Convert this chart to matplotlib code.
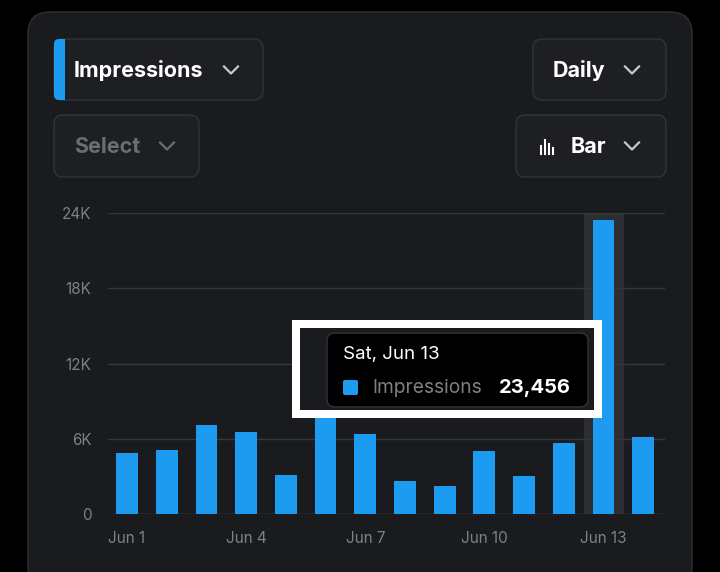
import matplotlib
matplotlib.use("Agg")
import matplotlib.pyplot as plt
from matplotlib.patches import FancyBboxPatch, Rectangle

days = ["Jun 1","Jun 2","Jun 3","Jun 4","Jun 5","Jun 6","Jun 7","Jun 8","Jun 9","Jun 10","Jun 11","Jun 12","Jun 13","Jun 14"]
values = [4900, 5100, 7100, 6500, 3100, 8000, 6400, 2600, 2200, 5000, 3000, 5700, 23456, 6100]
yticks = [0, 6000, 12000, 18000, 24000]
ytick_labels = ["0", "6K", "12K", "18K", "24K"]
xtick_idx = [0, 3, 6, 9, 12]
highlight = 12

W, H = 720, 572
fig = plt.figure(figsize=(7.2, 5.72), dpi=100, facecolor="black")
plt.rcParams['font.family'] = ['Inter', 'DejaVu Sans']

bg = fig.add_axes([0, 0, 1, 1], zorder=0)
bg.set_xlim(0, W); bg.set_ylim(H, 0); bg.axis("off")
bg.add_patch(FancyBboxPatch((28, 12), 664, 600, boxstyle="round,pad=0,rounding_size=22",
                            fc="#1a1b1f", ec="#2e2f34", lw=1))

def button(x0, y0, x1, y1, text, color="white", tx=None):
    bg.add_patch(FancyBboxPatch((x0, y0), x1 - x0, y1 - y0, boxstyle="round,pad=0,rounding_size=9",
                                fc="#1e1f23", ec="#33343a", lw=1))
    bg.text(tx if tx else x0 + 20, (y0 + y1) / 2 + 1, text, color=color, fontsize=15.5,
            fontweight="bold", va="center", ha="left")

def chevron(cx, cy, color):
    bg.plot([cx - 7, cx, cx + 7], [cy - 3.5, cy + 3.5, cy - 3.5], color=color, lw=1.6)

button(54, 39, 263, 100, "Impressions", tx=74)
bg.add_patch(FancyBboxPatch((54, 39), 10, 61, boxstyle="round,pad=0,rounding_size=5", fc="#1d9bf0", ec="none"))
bg.add_patch(Rectangle((59, 39), 6, 61, fc="#1d9bf0", ec="none"))
chevron(231, 70, "#c8c9cc")
button(533, 39, 666, 100, "Daily", tx=553)
chevron(632, 70, "#c8c9cc")
button(54, 115, 199, 177, "Select", color="#6b6d72", tx=74)
chevron(167, 146, "#6b6d72")
button(516, 115, 666, 177, "Bar", tx=571)
chevron(632, 146, "#c8c9cc")
for i, h in enumerate([8, 14, 10, 6]):
    bg.plot([541 + i * 4, 541 + i * 4], [154, 154 - h], color="white", lw=1.5)

ax = fig.add_axes([108 / W, 1 - 514 / H, (665 - 108) / W, (514 - 213) / H], zorder=1)
ax.set_facecolor("none")
x = list(range(len(values)))
ax.axvspan(highlight - 0.5, highlight + 0.5, color="#2d2e33", zorder=0)
ax.bar(x, values, width=0.55, color="#1d9bf0", zorder=2)
ax.set_xlim(-0.48, 13.55)
ax.set_ylim(0, 24000)
ax.set_yticks(yticks)
ax.set_yticklabels(ytick_labels)
ax.set_xticks(xtick_idx)
ax.set_xticklabels([days[i] for i in xtick_idx])
ax.grid(axis="y", color="#36373c", lw=1, zorder=1)
ax.tick_params(colors="#7d8086", labelsize=11, length=0, pad=12)
for s in ax.spines.values():
    s.set_visible(False)
ax.axhline(0, color="#36373c", lw=1, zorder=1)

tt = fig.add_axes([0, 0, 1, 1], zorder=2)
tt.set_xlim(0, W); tt.set_ylim(H, 0); tt.axis("off")
tt.add_patch(Rectangle((292, 320), 310, 98, fc="white", ec="none"))
tt.add_patch(Rectangle((300, 328), 294, 82, fc="#1a1b1f", ec="none"))
tt.add_patch(FancyBboxPatch((327, 333), 261, 74, boxstyle="round,pad=0,rounding_size=8",
                            fc="black", ec="#33343a", lw=1))
tt.text(343, 355, "Sat, Jun 13", color="white", fontsize=13.5, va="center", ha="left")
tt.add_patch(FancyBboxPatch((343, 380), 15, 15, boxstyle="round,pad=0,rounding_size=2", fc="#1d9bf0", ec="none"))
tt.text(372, 388, "Impressions", color="#7d8086", fontsize=13.8, va="center", ha="left")
tt.text(571, 388, "23,456", color="white", fontsize=14.5, fontweight="bold", va="center", ha="right")

fig.savefig("out.png", dpi=100, facecolor="black")
